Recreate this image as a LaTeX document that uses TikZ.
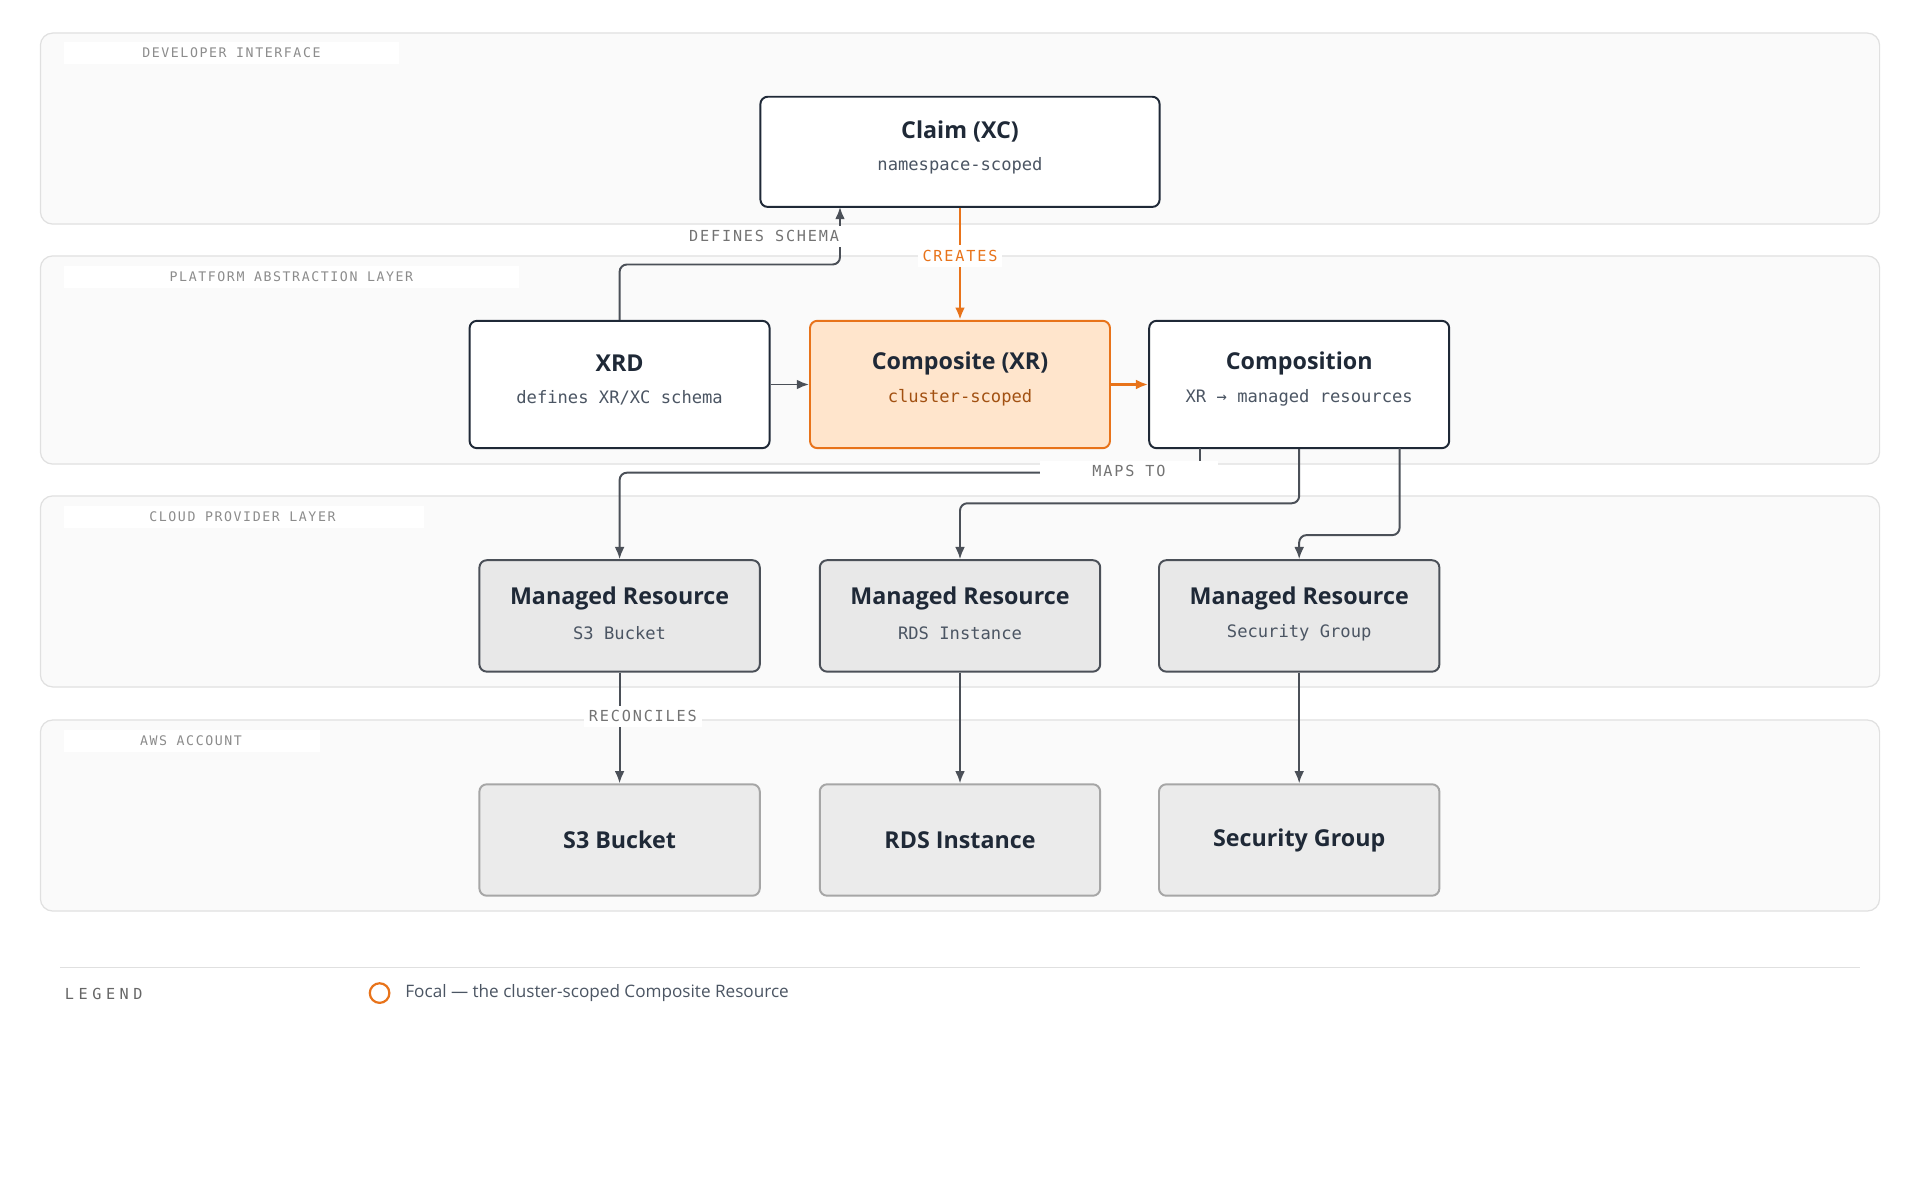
\documentclass[tikz,border=0pt]{standalone}
\usepackage{fontspec}
\setmainfont{Open Sans}
\newfontfamily\mono{DejaVu Sans Mono}
\newfontfamily\monols{DejaVu Sans Mono}[LetterSpace=12]
\newfontfamily\monolg{DejaVu Sans Mono}[LetterSpace=30]
\usetikzlibrary{arrows.meta}
\definecolor{ink}{HTML}{1F2937}
\definecolor{sub}{HTML}{4B5563}
\definecolor{orng}{HTML}{E8731A}
\definecolor{edge}{HTML}{4B5058}
\begin{document}
\begin{tikzpicture}[x=0.5pt,y=-0.5pt,
 band/.style={draw=black!12,fill=black!2,rounded corners=5pt,line width=0.5pt},
 bandlbl/.style={fill=white,font=\monols\fontsize{5.4}{6}\selectfont,text=black!45,inner sep=1pt},
 box/.style={draw=ink,fill=white,rounded corners=3pt,line width=0.8pt,align=center},
 mr/.style={draw=edge,fill=black!9,rounded corners=3pt,line width=0.8pt,align=center},
 aws/.style={draw=black!35,fill=black!8,rounded corners=3pt,line width=0.8pt,align=center},
 ttl/.style={font=\bfseries\fontsize{9.5}{12}\selectfont,text=ink},
 sb/.style={font=\mono\fontsize{7}{9}\selectfont,text=sub},
 con/.style={draw=edge,line width=0.8pt,-{Latex[length=5pt,width=4pt]},rounded corners=3pt},
 lbl/.style={fill=white,font=\monols\fontsize{6.2}{7}\selectfont,text=black!55,inner sep=2pt}]
\useasboundingbox (0,0) rectangle (1568,980);
\fill[white] (0,0) rectangle (1568,980);
% bands
\draw[band] (33,27) rectangle (1535,183);
\draw[band] (33,209) rectangle (1535,379);
\draw[band] (33,405) rectangle (1535,561);
\draw[band] (33,588) rectangle (1535,744);
\fill[white] (52,34) rectangle (326,52);
\fill[white] (52,217) rectangle (424,235);
\fill[white] (52,413) rectangle (346,431);
\fill[white] (52,596) rectangle (261,614);
\node[bandlbl] (b1) at (189,43) {DEVELOPER INTERFACE};
\node[bandlbl] (b2) at (238,226) {PLATFORM ABSTRACTION LAYER};
\node[bandlbl] (b3) at (198,422) {CLOUD PROVIDER LAYER};
\node[bandlbl] (b4) at (156,605) {AWS ACCOUNT};
% nodes
\node[box,minimum width=163pt,minimum height=45pt] (claim) at (784,124) {};
\node[ttl] (claimt) at (784,107) {Claim (XC)};
\node[sb] (claims) at (784,135) {namespace-scoped};
\node[box,minimum width=122.5pt,minimum height=52pt] (xrd) at (506,314) {};
\node[ttl] at (506,297) {XRD};
\node[sb] at (506,325) {defines XR/XC schema};
\node[box,draw=orng,fill=orange!20!white,minimum width=122.5pt,minimum height=52pt] (xr) at (784,314) {};
\node[ttl] at (784,297) {Composite (XR)};
\node[sb,text=orng!70!black] at (784,325) {cluster-scoped};
\node[box,minimum width=122.5pt,minimum height=52pt] (comp) at (1061,314) {};
\node[ttl] at (1061,297) {Composition};
\node[sb] at (1061,325) {XR → managed resources};
\foreach \n/\x/\s in {m1/506/S3 Bucket,m2/784/RDS Instance,m3/1061/Security Group}{
 \node[mr,minimum width=114.5pt,minimum height=45.5pt] (\n) at (\x,503) {};
 \node[ttl] at (\x,489) {Managed Resource};
 \node[sb] at (\x,517) {\s};
}
\node[aws,minimum width=114.5pt,minimum height=45.5pt,ttl] (a1) at (506,686) {S3 Bucket};
\node[aws,minimum width=114.5pt,minimum height=45.5pt,ttl] (a2) at (784,686) {RDS Instance};
\node[aws,minimum width=114.5pt,minimum height=45.5pt,ttl] (a3) at (1061,686) {Security Group};
% connectors
\draw[con] (xrd.north) |- (686,216) -- (686,169);
\node[lbl] (ds) at (624,193) {DEFINES SCHEMA};
\draw[con,draw=orng,line width=1pt] (claim.south) -- (xr.north);
\node[lbl,text=orng] (cr) at (784,209) {CREATES};
\draw[con] (xrd.east) -- (xr.west);
\draw[con,draw=orng,line width=1pt] (xr.east) -- (comp.west);
\draw[con] (980,366) |- (506,386) -- (m1.north);
\draw[con] (comp.south) |- (784,411) -- (m2.north);
\draw[con] (1143,366) |- (1061,437) -- (m3.north);
\node[lbl,minimum width=73pt] (mt) at (922,385) {MAPS TO};
\draw[con] (m1.south) -- (a1.north);
\draw[con] (m2.south) -- (a2.north);
\draw[con] (m3.south) -- (a3.north);
\node[lbl] (rc) at (525,585) {RECONCILES};
% legend
\draw[black!12,line width=0.5pt] (49,790) -- (1519,790);
\node[font=\monolg\fontsize{6.2}{7}\selectfont,text=black!60,anchor=west] (lg) at (46,812) {LEGEND};
\node[circle,draw=orng,line width=0.9pt,minimum size=8pt,inner sep=0pt] (lc) at (310,811) {};
\node[anchor=west,font=\fontsize{7}{9}\selectfont,text=sub] (lt) at (324,811) {Focal — the cluster-scoped Composite Resource};
\end{tikzpicture}
\end{document}
